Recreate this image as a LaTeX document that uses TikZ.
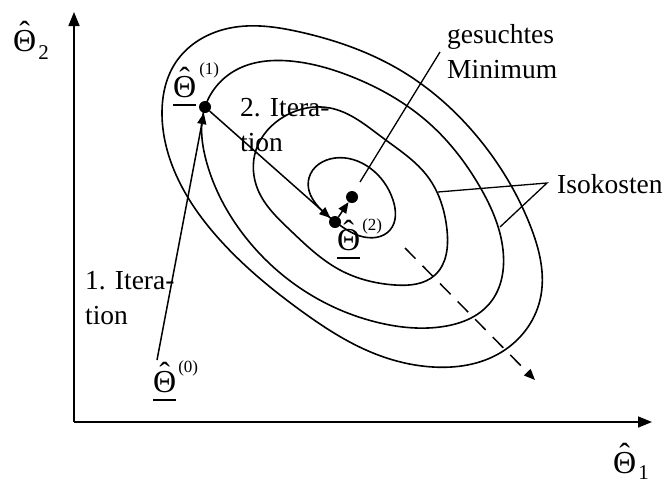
\documentclass[tikz,border=0pt]{standalone}
\usepackage{fontspec}
\setmainfont{Liberation Serif}
\usetikzlibrary{arrows.meta,hobby}
\newsavebox\thbox
\newcommand{\thhat}{\sbox\thbox{Θ}\rlap{\hbox to \wd\thbox{\hss\raisebox{8pt}{ˆ}\hss}}\usebox\thbox}
\newcommand{\thu}{\sbox\thbox{Θ}\rlap{\rule[-8.5pt]{\wd\thbox}{1.3pt}}\thhat}
\newcommand{\supf}{\fontsize{17}{17}\selectfont}
\newcommand{\subf}{\fontsize{21}{21}\selectfont}
\tikzset{
  iso/.style={line width=1.6pt},
  axis/.style={line width=1.6pt, -{Triangle[length=14pt,width=11pt]}},
  arr/.style={line width=1.5pt, -{Triangle[length=11pt,width=9pt]}},
  dot/.style={circle, fill=black, inner sep=0pt, minimum size=12pt},
  txt/.style={font=\fontsize{27.5}{35}\selectfont, align=left, inner sep=0pt},
  lab/.style={font=\fontsize{32}{35}\selectfont, inner sep=0pt, anchor=base west},
}
\begin{document}
\begin{tikzpicture}[x=1pt,y=-1pt]
\useasboundingbox (0,0) rectangle (668,485);
% axes
\coordinate (o) at (74,422);
\coordinate (ytip) at (74,12);
\coordinate (xtip) at (652,422);
\draw[axis] (o) -- (ytip);
\draw[axis] (o) -- (xtip);
\node[lab] (ax2) at (13,51) {\thhat\hspace{2pt}\raisebox{-8pt}{\subf 2}};
\node[lab] (ax1) at (613,473) {\thhat\hspace{2pt}\raisebox{-6pt}{\subf 1}};
% isocost curves
\draw[iso, use Hobby shortcut, closed=true]
 (162,112) .. (176,62) .. (230,28) .. (300,32) .. (400,70) .. (480,140)
 .. (530,225) .. (540,300) .. (500,353) .. (433,367) .. (373,353)
 .. (300,310) .. (220,240) .. (172,165);
\draw[iso, use Hobby shortcut, closed=true]
 (205,107) .. (236,70) .. (290,61) .. (350,76) .. (430,124) .. (480,187)
 .. (503,250) .. (490,303) .. (440,327) .. (380,323) .. (300,288)
 .. (240,230) .. (206,160);
\draw[iso, use Hobby shortcut, closed=true]
 (256,150) .. (285,116) .. (330,108) .. (383,138) .. (428,177)
 .. (447,230) .. (435,275) .. (395,285) .. (340,270) .. (290,230) .. (258,190);
\draw[iso, use Hobby shortcut, closed=true]
 (309,178) .. (335,158) .. (370,168) .. (393,200) .. (390,230)
 .. (360,236) .. (333,220);
% points
\coordinate (p0) at (157,360);
\node[dot] (p1) at (205,107) {};
\node[dot] (p2) at (335,222) {};
\node[dot] (pm) at (352,197) {};
\draw[arr] (p0) -- (p1);
\draw[arr] (p1) -- (p2);
\draw[arr] (p2) -- (pm);
\coordinate (ds) at (405,248);
\coordinate (de) at (535,380);
\draw[arr, dash pattern=on 15pt off 10pt] (ds) -- (de);
% labels
\node[lab] (th0) at (153,392) {\thu\hspace{2pt}\raisebox{20pt}{\supf(0)}};
\node[lab] (th1) at (173,97) {\thu\hspace{3pt}\raisebox{23pt}{\supf(1)}};
\node[lab] (th2) at (337,250) {\thu\hspace{2pt}\raisebox{20pt}{\supf(2)}};
\node[txt, anchor=north west] (it1) at (85,271.4) {1. Itera-\\tion};
\node[txt, anchor=north west] (it2) at (240,98.4) {2. Itera-\\tion};
\node[txt, anchor=north west] (min) at (447,24.2) {gesuchtes\\Minimum};
\node[txt, anchor=base west] (isok) at (557,193) {Isokosten};
% leader lines
\coordinate (m1) at (360,182);
\coordinate (m2) at (440,52);
\draw[line width=1.3pt] (m1) -- (m2);
\coordinate (i1) at (438,192);
\coordinate (ik) at (547,183);
\coordinate (i2) at (500,227);
\draw[line width=1.3pt] (i1) -- (ik) -- (i2);
\end{tikzpicture}
\end{document}
